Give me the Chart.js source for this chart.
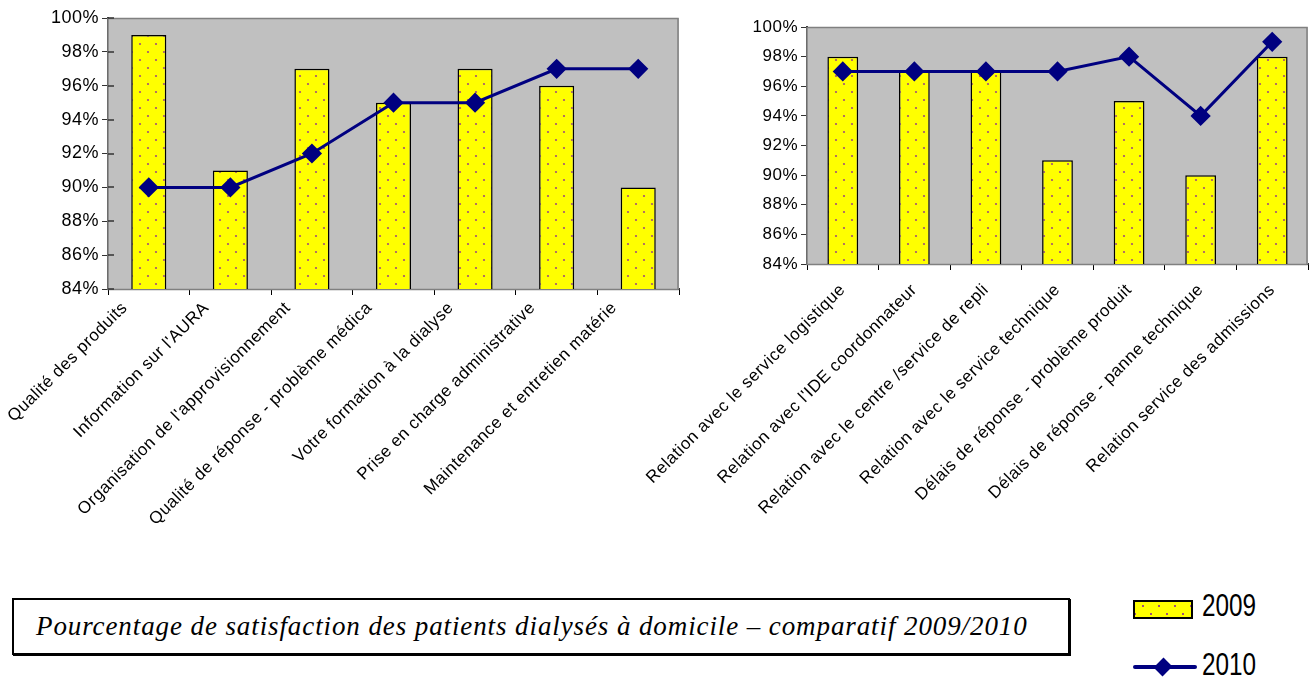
<!DOCTYPE html>
<html>
<head>
<meta charset="utf-8">
<script src="https://cdn.jsdelivr.net/npm/chart.js@4.4.1/dist/chart.umd.min.js"></script>
<style>
  body { margin: 0; background: #fff; width: 1311px; height: 677px; position: relative; overflow: hidden; }
  .box { position: absolute; }
  #left { left: 0; top: 0; width: 690px; height: 560px; }
  #right { left: 600px; top: 0; width: 719px; height: 560px; }
  #caption {
    left: 12px; top: 598px; width: 1058px; height: 57px;
    border: 2px solid #000; box-shadow: 1px 1px 0 #000; box-sizing: border-box;
    font-family: "Liberation Serif", serif; font-style: italic; font-size: 27px; letter-spacing: 0.9px;
    line-height: 53px; padding-left: 22px; white-space: nowrap;
  }
  .leg-text {
    position: absolute; font-family: "Liberation Sans", sans-serif; font-size: 32px; line-height: 32px;
    transform: scaleX(0.76); transform-origin: left top;
  }
  #legBar {
    left: 1133px; top: 600px; width: 60px; height: 19px; box-sizing: border-box; border: 2px solid #000;
    background-color: #ffff00;
    background-image: radial-gradient(circle, #a0507a 1px, transparent 1.5px),
                      radial-gradient(circle, #a0507a 1px, transparent 1.5px);
    background-size: 16px 16px;
    background-position: 0 -4px, 8px 4px;
  }
  #legLine { left: 1133px; top: 665px; width: 64px; height: 4px; border-radius: 2px; background: #000080; }
  #legDiamond { left: 1156px; top: 660px; width: 14px; height: 14px; background: #000080; transform: rotate(45deg) scaleX(0.9); }
</style>
</head>
<body>
<div class="box" id="left"><canvas id="chart1"></canvas></div>
<div class="box" id="right"><canvas id="chart2"></canvas></div>
<div class="box" id="caption">Pourcentage de satisfaction des patients dialysés à domicile – comparatif 2009/2010</div>
<div class="box" id="legBar"></div>
<div class="leg-text" style="left:1202px;top:589px;">2009</div>
<div class="box" id="legLine"></div>
<div class="box" id="legDiamond"></div>
<div class="leg-text" style="left:1202px;top:648px;">2010</div>
<script>
// données graphique de gauche
var labels1 = ["Qualité des produits", "Information sur l'AURA", "Organisation de l'approvisionnement",
  "Qualité de réponse - problème médica", "Votre formation à la dialyse", "Prise en charge administrative",
  "Maintenance et entretien matérie"];
var values1_2009 = [99, 91, 97, 95, 97, 96, 90];
var values1_2010 = [90, 90, 92, 95, 95, 97, 97];

// données graphique de droite
var labels2 = ["Relation avec le service logistique", "Relation avec l'IDE coordonnateur",
  "Relation avec le centre /service de repli", "Relation avec le service technique",
  "Délais de réponse - problème produit", "Délais de réponse - panne technique",
  "Relation service des admissions"];
var values2_2009 = [98, 97, 97, 91, 95, 90, 98];
var values2_2010 = [97, 97, 97, 97, 98, 94, 99];

var yMin = 84, yMax = 100, yStep = 2;

// motif jaune à points décalés
function makePattern() {
  var c = document.createElement("canvas");
  c.width = 16; c.height = 16;
  var g = c.getContext("2d");
  g.fillStyle = "#ffff00";
  g.fillRect(0, 0, 16, 16);
  g.fillStyle = "#a0507a";
  g.beginPath(); g.arc(4, 4, 1.1, 0, Math.PI * 2); g.fill();
  g.beginPath(); g.arc(12, 12, 1.1, 0, Math.PI * 2); g.fill();
  return g.createPattern(c, "repeat");
}

var plotBg = {
  id: "plotBg",
  beforeLayout: function(chart) { chart.ctx.letterSpacing = "0.5px"; },
  beforeDraw: function(chart) { chart.ctx.letterSpacing = "0.5px"; },
  beforeDatasetsDraw: function(chart) {
    var a = chart.chartArea, ctx = chart.ctx;
    ctx.save();
    ctx.fillStyle = "#c0c0c0";
    ctx.fillRect(a.left, a.top, a.right - a.left, a.bottom - a.top);
    ctx.strokeStyle = "#808080";
    ctx.lineWidth = 1.5;
    ctx.strokeRect(a.left, a.top + 0.5, a.right - a.left - 1, a.bottom - a.top);
    // petites graduations qui traversent l'axe
    if (chart.options.crossTicks) {
      var y = chart.scales.y;
      ctx.strokeStyle = "#333";
      ctx.lineWidth = 1.5;
      y.ticks.forEach(function(t) {
        var py = Math.round(y.getPixelForValue(t.value));
        ctx.beginPath();
        ctx.moveTo(a.left, py);
        ctx.lineTo(a.left + 6, py);
        ctx.stroke();
      });
    }
    ctx.restore();
  }
};

function makeChart(id, labels, v2009, v2010, opts) {
  var ctx = document.getElementById(id).getContext("2d");
  return new Chart(ctx, {
    type: "bar",
    data: {
      labels: labels,
      datasets: [
        {
          type: "line",
          label: "2010",
          data: v2010,
          borderColor: "#000080",
          backgroundColor: "#000080",
          borderWidth: 3,
          pointStyle: "rectRot",
          pointRadius: 8,
          pointHoverRadius: 8,
          tension: 0,
          order: 0
        },
        {
          label: "2009",
          data: v2009,
          backgroundColor: makePattern(),
          borderColor: "#000",
          borderWidth: 1.5,
          barPercentage: 0.86,
          categoryPercentage: 0.5,
          order: 1
        }
      ]
    },
    options: {
      responsive: true,
      maintainAspectRatio: false,
      animation: false,
      crossTicks: opts.crossTicks,
      layout: { padding: { top: opts.top, right: opts.right, left: 0, bottom: 0 } },
      plugins: { legend: { display: false }, tooltip: { enabled: false } },
      scales: {
        x: {
          grid: { offset: true, drawOnChartArea: false, drawTicks: true, tickLength: 6, color: "#000" },
          border: { color: "#333", width: 2 },
          ticks: { maxRotation: 45, minRotation: 45, autoSkip: false, color: "#000",
            labelOffset: opts.labelOffset,
            font: { family: "Liberation Sans", size: 17 }, padding: opts.xPad },
          afterFit: function(s) {
            s.height = opts.xHeight;
            s.paddingLeft = 0;
            s.paddingRight = 0;
          }
        },
        y: {
          min: yMin, max: yMax,
          grid: { drawOnChartArea: false, drawTicks: true, tickLength: 6, color: "#333" },
          border: { color: "#333", width: 2 },
          ticks: { stepSize: yStep, color: "#000", padding: 3,
            font: { family: "Liberation Sans", size: opts.yFont },
            callback: function(v) { return v + "%"; } },
          afterFit: function(s) { s.width = opts.yWidth; }
        }
      }
    },
    plugins: [plotBg]
  });
}

makeChart("chart1", labels1, values1_2009, values1_2010,
  { top: 18, right: 11, yWidth: 108, xHeight: 271, yFont: 18, labelOffset: -24, xPad: 3, crossTicks: true });
makeChart("chart2", labels2, values2_2009, values2_2010,
  { top: 27, right: 11, yWidth: 207, xHeight: 296, yFont: 17, labelOffset: 0, xPad: 10, crossTicks: false });
</script>
</body>
</html>
